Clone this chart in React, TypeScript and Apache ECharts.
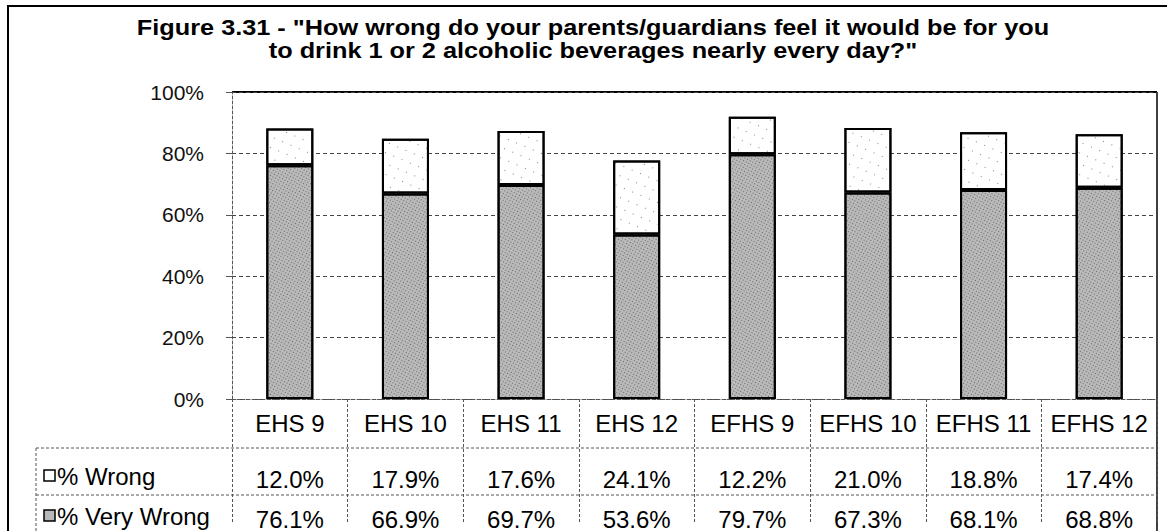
import React, { useEffect, useRef } from "react";
import * as echarts from "echarts";

const categories = ["EHS 9", "EHS 10", "EHS 11", "EHS 12", "EFHS 9", "EFHS 10", "EFHS 11", "EFHS 12"];
const wrong = [12.0, 17.9, 17.6, 24.1, 12.2, 21.0, 18.8, 17.4];
const veryWrong = [76.1, 66.9, 69.7, 53.6, 79.7, 67.3, 68.1, 68.8];
const seriesNames = ["% Wrong", "% Very Wrong"];
const titleLines = [
  'Figure 3.31 - "How wrong do your parents/guardians feel it would be for you',
  'to drink 1 or 2 alcoholic beverages nearly every day?"',
];

const FONT = "'Liberation Sans', Arial, sans-serif";
const GRID = { left: 232, top: 92, right: 10, bottom: 123 };
const W = 1167;
const H = 531;
const PLOT_RIGHT = W - GRID.right;

export default function App() {
  const ref = useRef<HTMLDivElement>(null);
  useEffect(() => {
    if (!ref.current) return;
    const chart = echarts.init(ref.current, null, { renderer: "svg" });
    const fmt = (v: number) => v.toFixed(1) + "%";
    const tableAxis = (data: string[], offset: number) => ({
      type: "category",
      data,
      position: "bottom",
      offset,
      axisLine: { show: false },
      axisTick: { show: false },
      axisLabel: { interval: 0, margin: 12, fontSize: 24, color: "#000", fontFamily: FONT },
    });
    const dashed = { stroke: "#555", lineWidth: 1, lineDash: [3, 2] };
    const titleText = (text: string, y: number) => ({
      type: "text",
      x: 593,
      y,
      scaleX: 1.15,
      style: {
        text,
        font: `bold 22px ${FONT}`,
        fill: "#000",
        align: "center",
        verticalAlign: "middle",
      },
    });
    chart.setOption({
      animation: false,
      backgroundColor: "#fff",
      aria: { enabled: false, decal: { show: true } },
      grid: { ...GRID },
      xAxis: [
        {
          type: "category",
          data: categories,
          axisLine: { show: true, lineStyle: { color: "#555", type: [3, 2], width: 1 } },
          axisTick: { show: true, interval: 0, length: 123, lineStyle: { color: "#555", type: [3, 2] } },
          axisLabel: { interval: 0, margin: 12, fontSize: 24, color: "#000", fontFamily: FONT },
        },
        tableAxis(wrong.map(fmt), 56),
        tableAxis(veryWrong.map(fmt), 96),
      ],
      yAxis: {
        type: "value",
        min: 0,
        max: 100,
        interval: 20,
        axisLine: { show: true, lineStyle: { color: "#555", type: [3, 2] } },
        axisTick: { show: true, length: 6, lineStyle: { color: "#555" } },
        axisLabel: {
          formatter: "{value}%",
          fontSize: 21,
          color: "#111",
          margin: 28,
          fontFamily: FONT,
          padding: [8, 0, 0, 0],
        },
        splitLine: { show: true, lineStyle: { color: "#444", type: [4, 3], width: 1 } },
      },
      series: [
        {
          name: seriesNames[1],
          type: "bar",
          stack: "total",
          data: veryWrong,
          barWidth: 47,
          itemStyle: {
            color: "#b9b9b9",
            borderColor: "#000",
            borderWidth: 2,
            decal: {
              symbol: "rect",
              symbolSize: 1,
              dashArrayX: [1, 2],
              dashArrayY: [1, 2],
              rotation: 0.5,
              color: "rgba(50,50,50,0.6)",
            },
          },
        },
        {
          name: seriesNames[0],
          type: "bar",
          stack: "total",
          data: wrong,
          barWidth: 47,
          itemStyle: {
            color: "#fff",
            borderColor: "#000",
            borderWidth: 2,
            decal: {
              symbol: "rect",
              symbolSize: 1,
              dashArrayX: [1, 8],
              dashArrayY: [1, 9],
              rotation: 0.4,
              color: "rgba(80,80,80,0.7)",
            },
          },
        },
      ],
      graphic: [
        {
          type: "rect",
          shape: { x: 8, y: 6, width: W + 20, height: H + 20 },
          style: { fill: "none", stroke: "#000", lineWidth: 2 },
          silent: true,
        },
        {
          type: "line",
          shape: { x1: GRID.left, y1: GRID.top, x2: PLOT_RIGHT, y2: GRID.top },
          style: { stroke: "#000", lineWidth: 2 },
        },
        {
          type: "line",
          shape: { x1: PLOT_RIGHT, y1: GRID.top, x2: PLOT_RIGHT, y2: H },
          style: { stroke: "#000", lineWidth: 1.5 },
        },
        { type: "line", shape: { x1: 36, y1: 448, x2: PLOT_RIGHT, y2: 448 }, style: dashed },
        { type: "line", shape: { x1: 36, y1: 495, x2: PLOT_RIGHT, y2: 495 }, style: dashed },
        { type: "line", shape: { x1: 36, y1: 448, x2: 36, y2: H }, style: dashed },
        {
          type: "rect",
          shape: { x: 44, y: 470, width: 11, height: 11 },
          style: { fill: "#fff", stroke: "#000", lineWidth: 1.5 },
        },
        {
          type: "rect",
          shape: { x: 44, y: 510, width: 11, height: 11 },
          style: { fill: "#b8b8b8", stroke: "#000", lineWidth: 1.5 },
        },
        {
          type: "text",
          x: 57,
          y: 476,
          style: { text: seriesNames[0], font: `24px ${FONT}`, fill: "#000", verticalAlign: "middle" },
        },
        {
          type: "text",
          x: 57,
          y: 516,
          style: { text: seriesNames[1], font: `24px ${FONT}`, fill: "#000", verticalAlign: "middle" },
        },
        titleText(titleLines[0], 28),
        titleText(titleLines[1], 51),
      ],
    });
    return () => chart.dispose();
  }, []);
  return <div ref={ref} style={{ position: "fixed", left: 0, top: 0, width: W, height: H }} />;
}
